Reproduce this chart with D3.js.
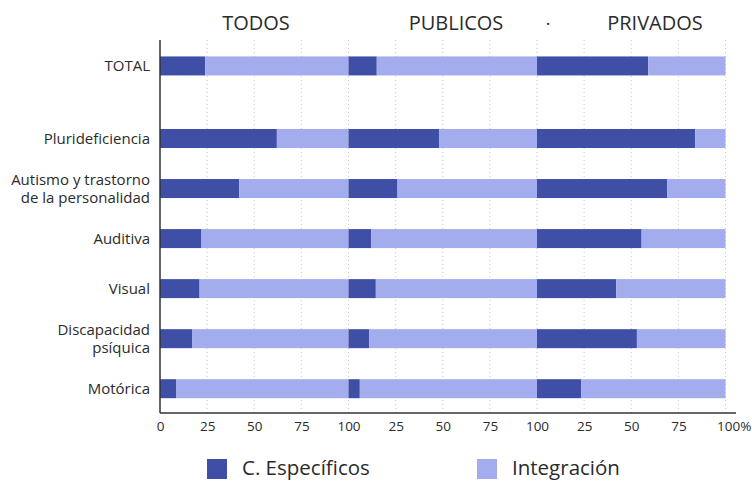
<!DOCTYPE html>
<html><head><meta charset="utf-8">
<script src="https://cdn.jsdelivr.net/npm/d3@7"></script>
<style>body{margin:0;background:#fff}svg{display:block}text{font-family:"Open Sans",sans-serif;fill:#2b2b2b}</style>
</head><body><div id="chart"></div>
<script>
const categories = ["TOTAL","Plurideficiencia","Autismo y trastorno\nde la personalidad","Auditiva","Visual","Discapacidad\npsíquica","Motórica"];
const groups = ["TODOS","PUBLICOS","PRIVADOS"];
const todos    = [24, 62, 42, 22, 21, 17, 8.5];
const publicos = [15, 48, 26, 12, 14.5, 11, 6];
const privados = [59, 84, 69, 55.5, 42, 53, 23.5];
const seriesNames = ["C. Específicos","Integración"];
const tickLabels = ["0","25","50","75","100","25","50","75","100","25","50","75","100%"];
const colors = ["#3f4fa6","#a3acec"];

const W=752,H=482;
const svg=d3.select("#chart").append("svg").attr("width",W).attr("height",H);
const x=d3.scaleLinear().domain([0,300]).range([160,725.5]);
// row index: TOTAL sits above with extra gap
const rowIndex = categories.map((c,i)=> i===0 ? -1.45 : i-1);
const y=d3.scaleLinear().domain([0,5]).range([138.5,388.7]);
const barH=19;
const plotTop=40, plotBottom=413;

// gridlines
const gridVals=d3.range(25,301,25);
svg.append("g").selectAll("line").data(gridVals).join("line")
  .attr("x1",d=>x(d)).attr("x2",d=>x(d)).attr("y1",plotTop).attr("y2",plotBottom)
  .attr("stroke","#c8c8c8").attr("stroke-width",1).attr("stroke-dasharray","1,3");

const vals=[todos,publicos,privados];
const bars=[];
categories.forEach((c,i)=>{
  vals.forEach((arr,g)=>{
    bars.push({i,g,start:g*100,v:arr[i],s:0});
    bars.push({i,g,start:g*100+arr[i],v:100-arr[i],s:1});
  });
});
svg.append("g").selectAll("rect").data(bars).join("rect")
  .attr("x",d=>x(d.start)).attr("width",d=>x(d.start+d.v)-x(d.start))
  .attr("y",d=>y(rowIndex[d.i])-barH/2).attr("height",barH)
  .attr("fill",d=>colors[d.s]);

// axes
const xAxis=d3.axisBottom(x).tickValues(d3.range(0,301,25)).tickSize(0).tickPadding(8)
  .tickFormat((d,i)=>tickLabels[i]);
const gx=svg.append("g").attr("transform",`translate(0,${plotBottom})`).call(xAxis);
gx.select(".domain").remove();
gx.selectAll("text").style("font-size","13.5px").attr("fill","#2b2b2b").style("font-family","'Open Sans',sans-serif");
gx.selectAll(".tick").filter((d,i)=>i===12).select("text").attr("text-anchor","start").attr("dx","-9");
svg.append("line").attr("x1",160).attr("x2",736).attr("y1",plotBottom).attr("y2",plotBottom).attr("stroke","#333").attr("stroke-width",1.5);
svg.append("line").attr("x1",160).attr("x2",160).attr("y1",plotTop).attr("y2",plotBottom).attr("stroke","#333").attr("stroke-width",1.5);

// category labels
categories.forEach((c,i)=>{
  const lines=c.split("\n");
  const t=svg.append("text").attr("text-anchor","end").attr("x",150)
    .attr("y",y(rowIndex[i])-(lines.length-1)*9+5.5).style("font-size","15px");
  lines.forEach((l,k)=>t.append("tspan").attr("x",150).attr("dy",k?18:0).text(l));
});

// group headers
const hx=[256,456,655];
groups.forEach((g,i)=>svg.append("text").attr("x",hx[i]).attr("y",30).attr("text-anchor","middle").style("font-size","20px").text(g));
svg.append("text").attr("x",548).attr("y",30).attr("text-anchor","middle").style("font-size","18px").text("·");

// legend
const lx=[207,477];
seriesNames.forEach((n,i)=>{
  svg.append("rect").attr("x",lx[i]).attr("y",459).attr("width",20).attr("height",20).attr("fill",colors[i]);
  svg.append("text").attr("x",lx[i]+35).attr("y",475).style("font-size","20.5px").text(n);
});
</script></body></html>
